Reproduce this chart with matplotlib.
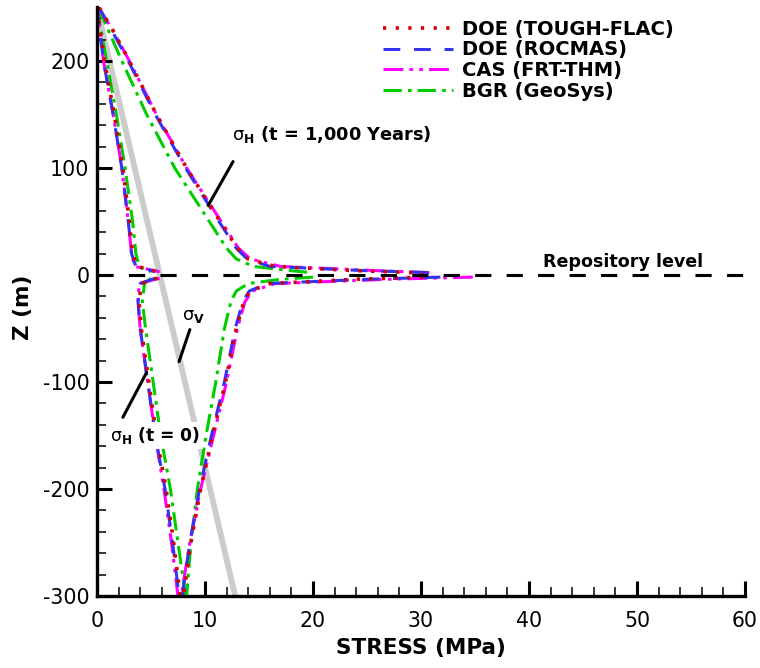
import numpy as np
import matplotlib
matplotlib.use("Agg")
import matplotlib.pyplot as plt
from matplotlib.ticker import MultipleLocator

plt.rcParams['font.family'] = ['DejaVu Sans']
plt.rcParams['axes.unicode_minus'] = False

nan = np.nan

# Depth grids (m); nan splits the curve at the repository level.
z_t0 = [250, 200, 150, 100, 50, 20, 8, 3, nan, -3, -8, -25, -50, -100, -150, -200, -250, -300]
z_t1000 = [250, 230, 200, 150, 100, 50, 25, 15, 8, 4, 2, nan,
           -2, -4, -8, -15, -25, -50, -100, -150, -200, -250, -300]

# sigma_H at t = 0 (MPa)
tough_t0 = [0.0, 0.7, 1.6, 2.4, 3.0, 3.3, 3.7, 5.6, nan, 5.6, 4.1, 3.9, 4.1, 4.8, 5.5, 6.4, 7.1, 7.7]
rocmas_t0 = [0.0, 0.6, 1.5, 2.3, 2.9, 3.2, 3.6, 5.4, nan, 5.4, 4.0, 3.8, 4.0, 4.7, 5.4, 6.3, 7.0, 7.6]
frt_t0 = [0.0, 0.6, 1.5, 2.3, 2.9, 3.2, 3.5, 5.8, nan, 5.8, 3.9, 3.8, 4.0, 4.7, 5.4, 6.2, 6.9, 7.5]
geosys_t0 = [0.0, 0.9, 1.8, 2.6, 3.3, 3.6, 3.9, 5.0, nan, 5.0, 4.4, 4.2, 4.5, 5.2, 5.9, 6.8, 7.5, 8.2]

# sigma_H at t = 1,000 years (MPa)
tough_t1000 = [0.2, 1.4, 3.0, 5.5, 8.3, 11.4, 13.0, 14.0, 16.5, 24.0, 30.2, nan,
               30.2, 24.0, 16.0, 14.2, 13.6, 12.9, 11.9, 10.7, 9.6, 8.7, 8.0]
rocmas_t1000 = [0.2, 1.3, 2.9, 5.4, 8.2, 11.3, 12.9, 13.9, 16.0, 25.0, 31.8, nan,
                31.8, 25.0, 15.8, 14.1, 13.5, 12.8, 11.8, 10.6, 9.5, 8.6, 7.9]
frt_t1000 = [0.1, 1.4, 3.0, 5.5, 8.3, 11.5, 13.1, 14.2, 17.0, 26.0, 31.0, nan,
             34.8, 27.0, 16.5, 14.4, 13.7, 13.0, 12.0, 10.8, 9.6, 8.6, 7.8]
geosys_t1000 = [0.1, 1.0, 2.3, 4.6, 7.2, 10.4, 12.0, 12.9, 14.5, 18.0, 20.0, nan,
                20.0, 17.0, 14.0, 12.9, 12.4, 11.8, 11.0, 10.1, 9.3, 8.7, 8.3]

# vertical stress
sigma_v_z = [250, -300]
sigma_v_x = [0.0, 12.8]

repo_x = [0, 60]
repo_z = [0, 0]

RED = "#d40000"
BLUE = "#3434f0"
MAGENTA = "#ff00ff"
GREEN = "#00cc00"

fig = plt.figure(figsize=(7.6, 6.68), dpi=100)
ax = fig.add_axes([0.1276, 0.1078, 0.8526, 0.881])

ax.plot(sigma_v_x, sigma_v_z, color="#cccccc", lw=4.2, solid_capstyle="butt", zorder=1)

lw = 2.2
style_green = dict(color=GREEN, lw=lw, ls=(0, (6, 2, 1.2, 2)))
style_mag = dict(color=MAGENTA, lw=lw, ls=(0, (6.5, 2, 1.2, 2, 1.2, 2)))
style_blue = dict(color=BLUE, lw=lw, ls=(0, (5.5, 4.5)))
style_red = dict(color=RED, lw=2.6, ls=(0, (0.9, 2.6)))

ax.plot(geosys_t0, z_t0, zorder=2, **style_green)
ax.plot(geosys_t1000, z_t1000, zorder=2, **style_green)
ax.plot(frt_t0, z_t0, zorder=2, **style_mag)
ax.plot(frt_t1000, z_t1000, zorder=2, **style_mag)
ax.plot(rocmas_t0, z_t0, zorder=2, **style_blue)
ax.plot(rocmas_t1000, z_t1000, zorder=2, **style_blue)
ax.plot(tough_t0, z_t0, zorder=2, **style_red)
ax.plot(tough_t1000, z_t1000, zorder=2, **style_red)

ax.plot(repo_x, repo_z, color="black", lw=2.2, ls=(0, (5.3, 5)), zorder=3)

# legend
handles = [
    plt.Line2D([], [], **style_red),
    plt.Line2D([], [], **style_blue),
    plt.Line2D([], [], **style_mag),
    plt.Line2D([], [], **style_green),
]
labels = ["DOE (TOUGH-FLAC)", "DOE (ROCMAS)", "CAS (FRT-THM)", "BGR (GeoSys)"]
ax.legend(handles, labels, loc="upper left", bbox_to_anchor=(0.441, 0.979),
          frameon=False, borderpad=0, borderaxespad=0, handlelength=3.6,
          handletextpad=0.46, labelspacing=0.08,
          prop=dict(weight="bold", size=14))

# annotations
txt = dict(fontsize=12.8, fontweight="bold")
ax.text(12.5, 131, r"$\mathrm{\sigma}_\mathbf{H}$ (t = 1,000 Years)", ha="left", va="center", zorder=5, **txt)
ax.annotate("", xy=(10.3, 65), xytext=(12.6, 106),
            arrowprops=dict(arrowstyle="-", lw=2.2, color="black", shrinkA=0, shrinkB=0))
ax.text(41.3, 12, "Repository level", ha="left", va="center", zorder=5,
        fontsize=12.6, fontweight="bold")
ax.text(7.9, -38, r"$\mathrm{\sigma}_\mathbf{V}$", ha="left", va="center", zorder=5, **txt)
ax.annotate("", xy=(7.6, -81), xytext=(8.6, -51),
            arrowprops=dict(arrowstyle="-", lw=2.2, color="black", shrinkA=0, shrinkB=0))
ax.text(1.2, -150, r"$\mathrm{\sigma}_\mathbf{H}$ (t = 0)", ha="left", va="center", zorder=5,
        bbox=dict(facecolor="white", edgecolor="none", pad=2), fontsize=12.3, fontweight="bold")
ax.annotate("", xy=(2.4, -133), xytext=(4.6, -91),
            arrowprops=dict(arrowstyle="-", lw=2.2, color="black", shrinkA=0, shrinkB=0))

ax.set_xlim(0, 60)
ax.set_ylim(-300, 250)
ax.set_yticks([-300, -200, -100, 0, 100, 200])
ax.xaxis.set_major_locator(MultipleLocator(10))
ax.xaxis.set_minor_locator(MultipleLocator(2))
ax.yaxis.set_minor_locator(MultipleLocator(20))

ax.spines["top"].set_visible(False)
ax.spines["right"].set_visible(False)
ax.spines["left"].set_linewidth(2.4)
ax.spines["bottom"].set_linewidth(2.4)
ax.tick_params(which="major", direction="in", length=11, width=2.2, labelsize=14.8)
ax.tick_params(axis="x", which="major", pad=10.5)
ax.tick_params(axis="y", which="major", pad=5.5)
ax.tick_params(which="minor", direction="in", length=6.5, width=1.1)

ax.set_xlabel("STRESS (MPa)", fontsize=15.5, fontweight="bold")
ax.set_ylabel("Z (m)", fontsize=15.5, fontweight="bold")
ax.xaxis.set_label_coords(0.5, -0.072)
ax.yaxis.set_label_coords(-0.098, 0.49)

fig.savefig("out.png", dpi=100)
